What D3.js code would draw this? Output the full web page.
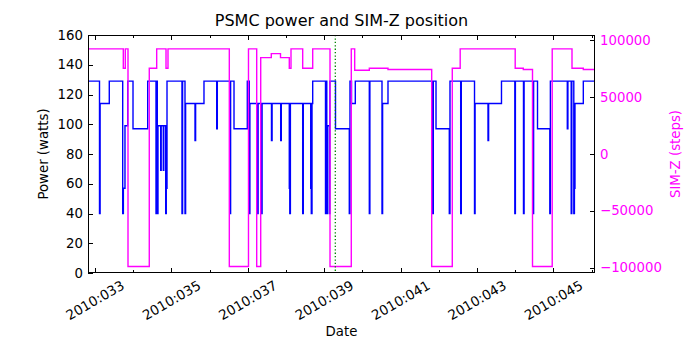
<!DOCTYPE html>
<html>
<head>
<meta charset="utf-8">
<script src="https://cdn.jsdelivr.net/npm/d3@7"></script>
<style>
  html, body { margin: 0; padding: 0; background: #fff; }
  svg text { font-family: "DejaVu Sans", sans-serif; }
</style>
</head>
<body>
<svg id="chart" width="700" height="350"></svg>
<script>
// ---------------- data ----------------
const chartTitle = "PSMC power and SIM-Z position";
const xLabel = "Date";
const yLeftLabel = "Power (watts)";
const yRightLabel = "SIM-Z (steps)";

// PSMC power (watts), step series; time in day-of-year 2010
const powerDays = [32.817, 33.118, 33.134, 33.374, 33.725, 33.743, 33.785, 33.856, 33.995, 34.380,
  34.597, 34.613, 34.631, 34.649, 34.720, 34.733, 34.788, 34.801, 34.851, 34.866, 34.885,
  35.277, 35.293, 35.356, 35.372, 35.618, 35.634, 35.853, 36.186, 36.202, 36.534, 36.550,
  36.639, 36.987, 37.039, 37.055, 37.254, 37.270, 37.359, 37.374, 37.620, 37.636, 37.861,
  37.877, 38.086, 38.099, 38.115, 38.437, 38.453, 38.647, 38.662, 38.681, 38.699, 39.034,
  39.050, 39.068, 39.084, 39.134, 39.149, 39.296, 39.657, 39.675, 39.715, 39.814, 40.181,
  40.196, 40.513, 40.529, 40.670, 41.840, 41.856, 41.927, 42.275, 42.293, 42.573, 42.589,
  42.935, 42.950, 43.288, 43.304, 43.641, 43.990, 44.005, 44.217, 44.233, 44.466, 44.482,
  44.584, 44.906, 44.921, 45.364, 45.380, 45.466, 45.482, 45.534, 45.550, 45.565, 45.783, 46.100];
const powerWatts = [129, 40, 114, 129, 40, 57, 99, 129, 97, 129,
  40, 129, 40, 99, 69, 99, 69, 99, 40, 57, 129,
  40, 129, 40, 114, 89, 114, 129, 97, 129, 40, 129,
  97, 129, 40, 114, 40, 114, 40, 114, 89, 114, 89,
  114, 57, 40, 114, 40, 114, 57, 40, 114, 129, 40,
  129, 40, 99, 40, 129, 97, 40, 129, 114, 129, 40,
  129, 40, 114, 129, 40, 129, 97, 40, 129, 40, 129,
  40, 114, 89, 114, 129, 40, 129, 40, 129, 40, 129,
  97, 40, 129, 97, 129, 40, 129, 40, 57, 114, 129, 129];

// SIM-Z position (steps), step series
const simzDays = [32.817, 33.741, 33.793, 33.864, 34.421, 34.615, 34.859, 34.911, 36.516, 37.018,
  37.233, 37.338, 37.615, 37.856, 38.086, 38.131, 38.437, 38.699, 39.152, 39.709, 39.798,
  40.181, 40.670, 41.814, 42.353, 42.560, 44.000, 44.212, 44.453, 44.969, 45.487, 45.783, 46.100];
const simzSteps = [92500, 75500, 92500, -99000, 75500, 92500, 75500, 92500, -99000, 92500,
  -99000, 84800, 88300, 84800, 75500, 92500, 75500, 92500, -99000, 92500, 73700,
  75500, 74300, -99000, 75500, 92500, 75500, 74300, -99000, 92500, 75500, 74300, 74300];

// marker line (dotted green)
const markerDay = 39.291;

// ticks
const xTickDays = d3.range(33, 47);          // every day
const xLabelDays = [33, 35, 37, 39, 41, 43, 45];
const yLeftTicks = [0, 20, 40, 60, 80, 100, 120, 140, 160];
const yRightTicks = [-100000, -50000, 0, 50000, 100000];

// ---------------- layout ----------------
const L = 88, R = 595, T = 35, B = 273;
const svg = d3.select("#chart");

const x = d3.scaleLinear().domain([32.8168, 46.089]).range([L, R]);
const yL = d3.scaleLinear().domain([0, 160]).range([B, T]);
const yR = d3.scaleLinear().domain([-104700, 104700]).range([B, T]);

svg.append("defs").append("clipPath").attr("id", "clip")
  .append("rect").attr("x", L).attr("y", T).attr("width", R - L).attr("height", B - T);

const plot = svg.append("g").attr("clip-path", "url(#clip)");

const powerData = powerDays.map((d, i) => [d, powerWatts[i]]);
const simzData = simzDays.map((d, i) => [d, simzSteps[i]]);

plot.append("path")
  .datum(powerData)
  .attr("fill", "none")
  .attr("stroke", "#0000ff")
  .attr("stroke-width", 1.4)
  .attr("d", d3.line().x(d => x(d[0])).y(d => yL(d[1])).curve(d3.curveStepAfter));

plot.append("path")
  .datum(simzData)
  .attr("fill", "none")
  .attr("stroke", "#ff00ff")
  .attr("stroke-width", 1.4)
  .attr("d", d3.line().x(d => x(d[0])).y(d => yR(d[1])).curve(d3.curveStepAfter));

plot.append("line")
  .attr("x1", x(markerDay)).attr("x2", x(markerDay))
  .attr("y1", T).attr("y2", B)
  .attr("stroke", "#008000")
  .attr("stroke-width", 1.3)
  .attr("stroke-dasharray", "1.3,2.1");

// frame
svg.append("rect")
  .attr("x", L + 0.5).attr("y", T + 0.5)
  .attr("width", R - L - 1).attr("height", B - T - 1)
  .attr("fill", "none").attr("stroke", "#000").attr("stroke-width", 1);

// x ticks (bottom and top, inward)
const fmtDay = d => "2010:" + String(d).padStart(3, "0");
const gx = svg.append("g");
xTickDays.forEach(d => {
  const px = Math.round(x(d)) + 0.5;
  const len = xLabelDays.includes(d) ? 5 : 3;
  gx.append("line").attr("x1", px).attr("x2", px).attr("y1", B).attr("y2", B - len)
    .attr("stroke", "#000");
  gx.append("line").attr("x1", px).attr("x2", px).attr("y1", T).attr("y2", T + len)
    .attr("stroke", "#000");
});
xLabelDays.forEach(d => {
  gx.append("text")
    .attr("transform", `translate(${x(d)},${300}) rotate(-30)`)
    .attr("text-anchor", "middle")
    .attr("dominant-baseline", "central")
    .attr("font-size", 13.5)
    .attr("fill", "#000")
    .text(fmtDay(d));
});

// left y ticks
const gyl = svg.append("g");
yLeftTicks.forEach(v => {
  const py = Math.round(yL(v)) + 0.5;
  gyl.append("line").attr("x1", L).attr("x2", L + 5).attr("y1", py).attr("y2", py).attr("stroke", "#000");
  gyl.append("text")
    .attr("x", L - 5).attr("y", yL(v))
    .attr("text-anchor", "end").attr("dominant-baseline", "central")
    .attr("font-size", 13.3).attr("fill", "#000")
    .text(v);
});

// right y ticks
const gyr = svg.append("g");
const fmtR = v => (v < 0 ? "\u2212" + Math.abs(v) : String(v));
yRightTicks.forEach(v => {
  const py = Math.round(yR(v)) + 0.5;
  gyr.append("line").attr("x1", R).attr("x2", R - 5).attr("y1", py).attr("y2", py).attr("stroke", "#000");
  gyr.append("text")
    .attr("x", R + 5).attr("y", yR(v))
    .attr("text-anchor", "start").attr("dominant-baseline", "central")
    .attr("font-size", 13.3).attr("fill", "#ff00ff")
    .text(fmtR(v));
});

// labels
svg.append("text")
  .attr("x", (L + R) / 2).attr("y", 20)
  .attr("text-anchor", "middle").attr("dominant-baseline", "central")
  .attr("font-size", 16).attr("fill", "#000")
  .text(chartTitle);

svg.append("text")
  .attr("x", (L + R) / 2).attr("y", 331)
  .attr("text-anchor", "middle").attr("dominant-baseline", "central")
  .attr("font-size", 13.3).attr("fill", "#000")
  .text(xLabel);

svg.append("text")
  .attr("transform", `translate(43,${(T + B) / 2}) rotate(-90)`)
  .attr("text-anchor", "middle").attr("dominant-baseline", "central")
  .attr("font-size", 13.3).attr("fill", "#000")
  .text(yLeftLabel);

svg.append("text")
  .attr("transform", `translate(675,${(T + B) / 2}) rotate(-90)`)
  .attr("text-anchor", "middle").attr("dominant-baseline", "central")
  .attr("font-size", 13.3).attr("fill", "#ff00ff")
  .text(yRightLabel);
</script>
</body>
</html>
